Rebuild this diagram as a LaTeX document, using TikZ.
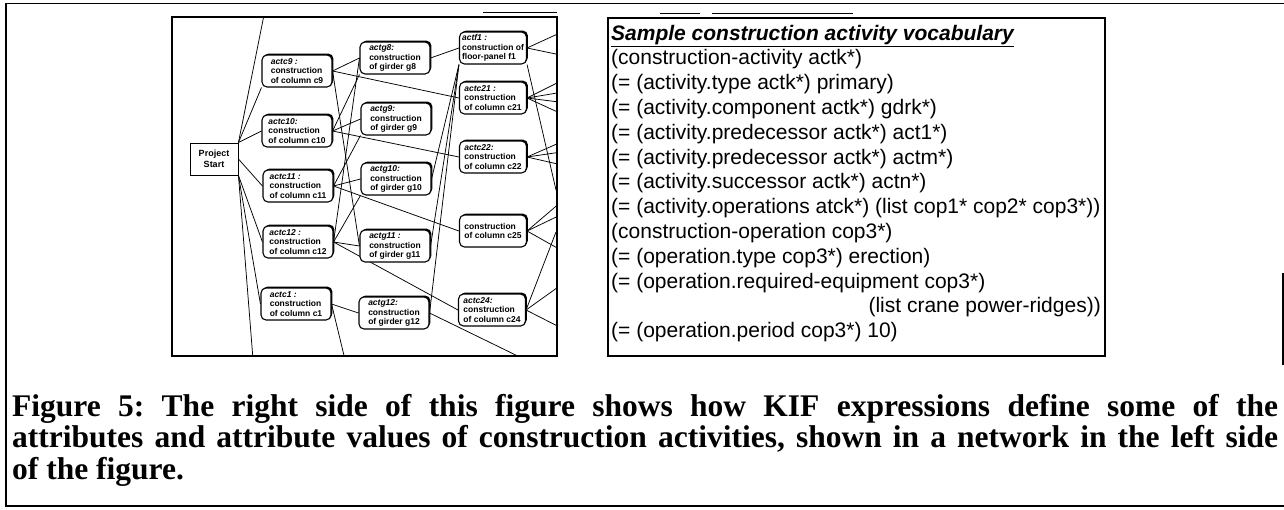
\documentclass[tikz,border=0pt]{standalone}
\usepackage{fontspec}
\setmainfont{Liberation Serif}
\setsansfont{Liberation Sans}
\usetikzlibrary{shadows,backgrounds}
\frenchspacing
\begin{document}
\begin{tikzpicture}[x=1pt,y=-1pt,
  act/.style={draw, line width=1.1pt, rounded corners=5pt, fill=white,
    minimum width=70pt, minimum height=32pt, inner sep=1.5pt, align=left,
    font=\sffamily\bfseries\fontsize{8.5}{9.5}\selectfont,
    general shadow={fill=black, shadow xshift=1.4pt, shadow yshift=1.4pt}},
  startbox/.style={draw, line width=0.9pt, fill=white, minimum width=48pt,
    minimum height=32pt, inner sep=1pt, align=center,
    font=\sffamily\bfseries\fontsize{9}{10.5}\selectfont},
  link/.style={line width=0.75pt},
  panel/.style={line width=1.8pt},
  kif/.style={anchor=base west, inner sep=0pt, font=\sffamily\fontsize{21}{25}\selectfont},
  captionline/.style={anchor=base west, inner sep=0pt, font=\bfseries\fontsize{31.5}{31.5}\selectfont}]
\useasboundingbox (0,0) rectangle (1284,509);

% outer frame
\draw[line width=1.6pt] (1284,3.5) -- (6,3.5) -- (6,506) -- (1284,506);
\draw[line width=1.4pt] (1283,273) -- (1283,365);

% ---------- activity network ----------
\node[startbox] (ps) at (214,159) {Project\\Start};

\node[act] (c9)  at (297,71)  {\textit{actc9 :}\\construction\\of column c9};
\node[act] (c10) at (297,131) {\textit{actc10:}\\construction\\of column c10};
\node[act] (c11) at (298,186) {\textit{actc11 :}\\construction\\of column c11};
\node[act] (c12) at (298,242) {\textit{actc12 :}\\construction\\of column c12};
\node[act] (c1)  at (296,304) {\textit{actc1 :}\\construction\\of column c1};

\node[act] (g8)  at (395,58)  {\textit{actg8:}\\construction\\of girder g8};
\node[act] (g9)  at (396,119) {\textit{actg9:}\\construction\\of girder g9};
\node[act] (g10) at (396,179) {\textit{actg10:}\\construction\\of girder g10};
\node[act] (g11) at (395,246) {\textit{actg11 :}\\construction\\of girder g11};
\node[act] (g12) at (394,313) {\textit{actg12:}\\construction\\of girder g12};

\node[act, minimum width=67pt] (f1)  at (493,48)  {\textit{actf1 :}\\construction of\\floor-panel f1};
\node[act, minimum width=67pt] (c21) at (493,98)  {\textit{actc21 :}\\construction\\of column c21};
\node[act, minimum width=67pt] (c22) at (493,157) {\textit{actc22:}\\construction\\of column c22};
\node[act, minimum width=67pt] (c25) at (493,231) {construction\\of column c25};
\node[act, minimum width=67pt] (c24) at (492,310) {\textit{actc24:}\\construction\\of column c24};

% loose ends leaving the panel
\coordinate (pstop) at (266,5);
\coordinate (psbot) at (254,372);
\coordinate (c1bot) at (348,372);
\coordinate (g12bot) at (530,362);
\coordinate (f1a) at (575,26);
\coordinate (f1b) at (575,58);
\coordinate (f1c) at (556,190);
\coordinate (c21a) at (575,74);
\coordinate (c21b) at (575,90);
\coordinate (c21c) at (575,104);
\coordinate (c21d) at (575,120);
\coordinate (c22a) at (575,136);
\coordinate (c22b) at (575,150);
\coordinate (c22c) at (575,168);
\coordinate (c25a) at (575,190);
\coordinate (c25b) at (575,208);
\coordinate (c25c) at (575,258);
\coordinate (c24a) at (575,275);
\coordinate (c24b) at (575,335);
\coordinate (c24c) at (556,232);

\begin{pgfonlayer}{background}
\begin{scope}
\clip (172,17) rectangle (557,356);
\draw[link] (ps.north east) -- (pstop);
\draw[link] (ps.north east) -- (c9.south west);
\draw[link] (ps.north east) -- (c10.west);
\draw[link] (ps.east) -- (c11.west);
\draw[link] (ps.south east) -- (c12.west);
\draw[link] (ps.south east) -- (c1.west);
\draw[link] (ps.south east) -- (psbot);

\draw[link] (c9.east) -- (g8.west);
\draw[link] (c9.east) -- (g11.west);
\draw[link] (c9.east) -- (c21.west);
\draw[link] (c10.east) -- (g9.west);
\draw[link] (c10.east) -- (g8.south west);
\draw[link] (c10.east) -- (c22.west);
\draw[link] (c11.east) -- (g10.west);
\draw[link] (c11.east) -- (g9.south west);
\draw[link] (c11.east) -- (c25.west);
\draw[link] (c12.east) -- (g11.west);
\draw[link] (c12.east) -- (g8.west);
\draw[link] (c12.east) -- (g10.south west);
\draw[link] (c12.east) -- (c24.west);
\draw[link] (c1.east) -- (g12.west);
\draw[link] (c1.east) -- (c1bot);

\draw[link] (g8.east) -- (f1.west);
\draw[link] (g10.east) -- (f1.south west);
\draw[link] (g11.east) -- (f1.south west);
\draw[link] (g12.east) -- (f1.south west);
\draw[link] (g12.east) -- (g12bot);

\draw[link] (f1.east) -- (f1a);
\draw[link] (f1.east) -- (f1b);
\draw[link] (f1.south east) -- (f1c);
\draw[link] (c21.east) -- (c21a);
\draw[link] (c21.east) -- (c21b);
\draw[link] (c21.east) -- (c21c);
\draw[link] (c21.east) -- (c21d);
\draw[link] (c22.east) -- (c22a);
\draw[link] (c22.east) -- (c22b);
\draw[link] (c22.east) -- (c22c);
\draw[link] (c25.east) -- (c25a);
\draw[link] (c25.east) -- (c25b);
\draw[link] (c25.east) -- (c25c);
\draw[link] (c24.east) -- (c24a);
\draw[link] (c24.east) -- (c24b);
\draw[link] (c24.east) -- (c24c);
\end{scope}
\end{pgfonlayer}

\draw[panel] (172,17) rectangle (557,356);
\draw[line width=0.6pt] (483,12) -- (557,12);

% ---------- KIF vocabulary ----------
\draw[panel] (608,18) rectangle (1105,356);
\draw[line width=0.6pt] (660,13) -- (700,13) (712,13) -- (853,13);

\node[kif] (h)  at (611,40)    {\textbf{\textit{\underline{Sample construction activity vocabulary}}}};
\node[kif] (k1) at (611,64.8)  {(construction-activity actk*)};
\node[kif] (k2) at (611,89.6)  {(= (activity.type actk*) primary)};
\node[kif] (k3) at (611,114.4) {(= (activity.component actk*) gdrk*)};
\node[kif] (k4) at (611,139.2) {(= (activity.predecessor actk*) act1*)};
\node[kif] (k5) at (611,164)   {(= (activity.predecessor actk*) actm*)};
\node[kif] (k6) at (611,188.8) {(= (activity.successor actk*) actn*)};
\node[kif] (k7) at (611,213.6) {(= (activity.operations atck*) (list cop1* cop2* cop3*))};
\node[kif] (k8) at (611,238.4) {(construction-operation cop3*)};
\node[kif] (k9) at (611,263.2) {(= (operation.type cop3*) erection)};
\node[kif] (k10) at (611,288)  {(= (operation.required-equipment cop3*)};
\node[kif, anchor=base east] (k11) at (1101,312.8) {(list crane power-ridges))};
\node[kif] (k12) at (611,337.6) {(= (operation.period cop3*) 10)};

% ---------- caption ----------
\node[captionline] (l1) at (12,416) {\makebox[1266pt][s]{Figure 5: The right side of this figure shows how KIF expressions define some of the}};
\node[captionline] (l2) at (12,447.5) {\makebox[1266pt][s]{attributes and attribute values of construction activities, shown in a network in the left side}};
\node[captionline] (l3) at (12,479) {of the figure.};
\end{tikzpicture}
\end{document}
